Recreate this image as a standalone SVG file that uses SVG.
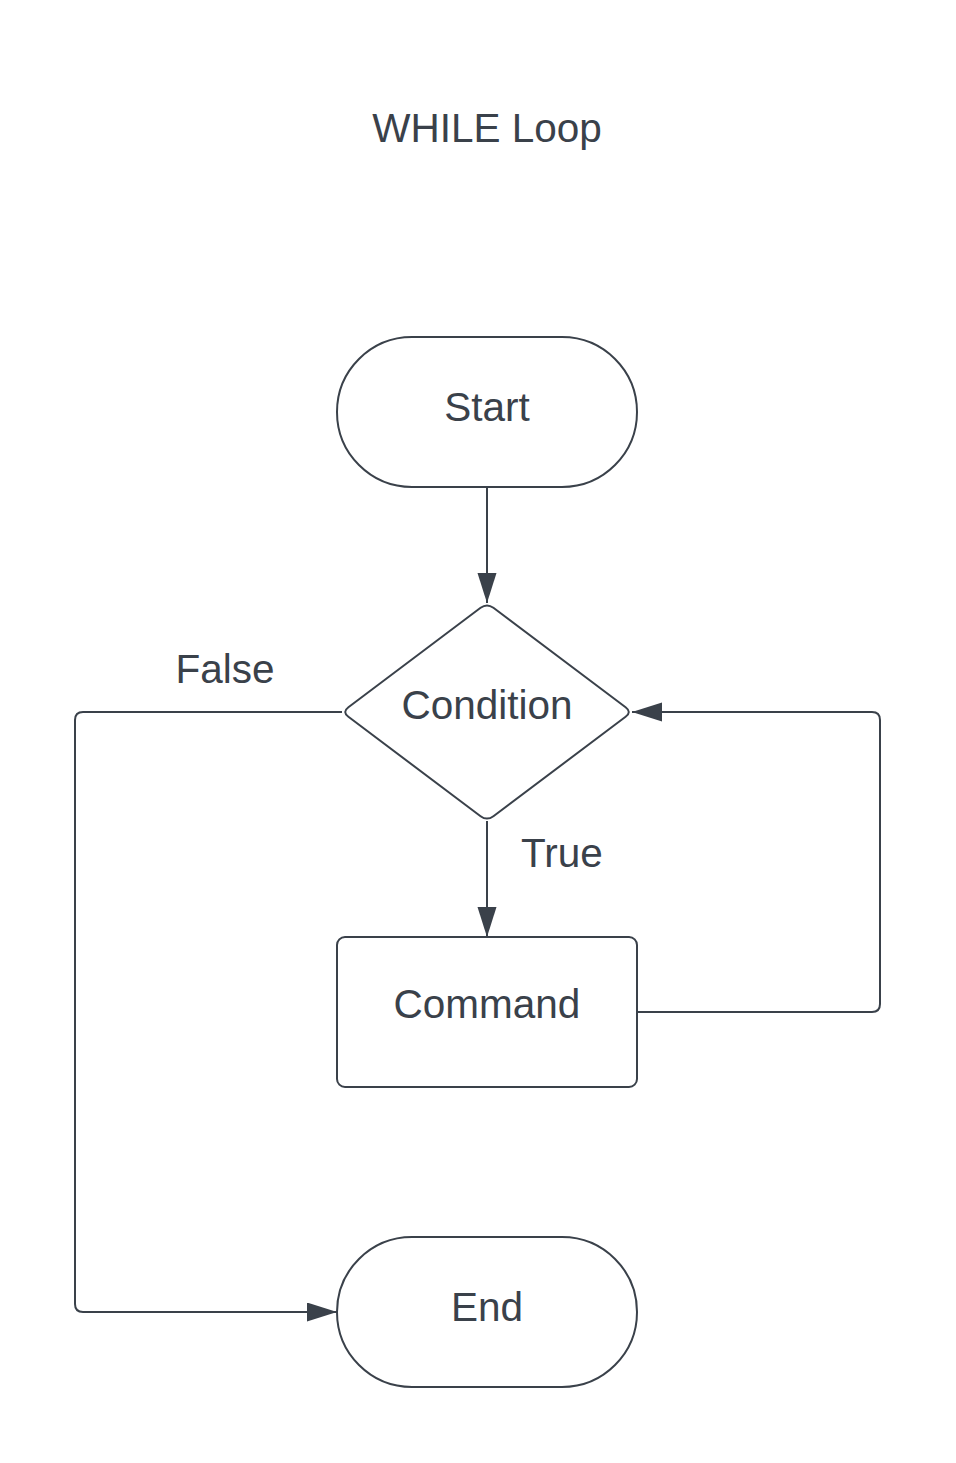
<svg xmlns="http://www.w3.org/2000/svg" width="956" height="1463" viewBox="0 0 956 1463">
<style>
.shape{fill:#ffffff;stroke:#3a414a;stroke-width:2}
.conn{fill:none;stroke:#3a414a;stroke-width:2}
text{font-family:"Liberation Sans",Arial,sans-serif;font-size:40.5px;fill:#3a414a;text-anchor:middle}
</style>
<defs>
<marker id="arrow" markerUnits="userSpaceOnUse" markerWidth="30" markerHeight="20" refX="30" refY="9.5" orient="auto">
<path d="M0,0 L30,9.5 L0,19 Z" fill="#3a414a"/>
</marker>
</defs>
<rect width="956" height="1463" fill="#ffffff"/>
<g id="title"><text x="487" y="142">WHILE Loop</text></g>
<g id="connectors">
<path class="conn" d="M487,487 V603" marker-end="url(#arrow)"/>
<path class="conn" d="M487,821 V937" marker-end="url(#arrow)"/>
<path class="conn" d="M637,1012 H872 Q880,1012 880,1004 V720 Q880,712 872,712 H632" marker-end="url(#arrow)"/>
<path class="conn" d="M342,712 H83 Q75,712 75,720 V1304 Q75,1312 83,1312 H337" marker-end="url(#arrow)"/>
<text x="225" y="683">False</text>
<text x="562" y="867">True</text>
</g>
<g id="start">
<rect class="shape" x="337" y="337" width="300" height="150" rx="75" ry="75"/>
<text x="487" y="421">Start</text>
</g>
<g id="condition">
<path class="shape" d="M480.6,607.8 Q487,603 493.4,607.8 L625.6,707.2 Q632,712 625.6,716.8 L493.4,816.2 Q487,821 480.6,816.2 L348.4,716.8 Q342,712 348.4,707.2 Z"/>
<text x="487" y="719">Condition</text>
</g>
<g id="command">
<rect class="shape" x="337" y="937" width="300" height="150" rx="8" ry="8"/>
<text x="487" y="1018">Command</text>
</g>
<g id="end">
<rect class="shape" x="337" y="1237" width="300" height="150" rx="75" ry="75"/>
<text x="487" y="1321">End</text>
</g>
</svg>
